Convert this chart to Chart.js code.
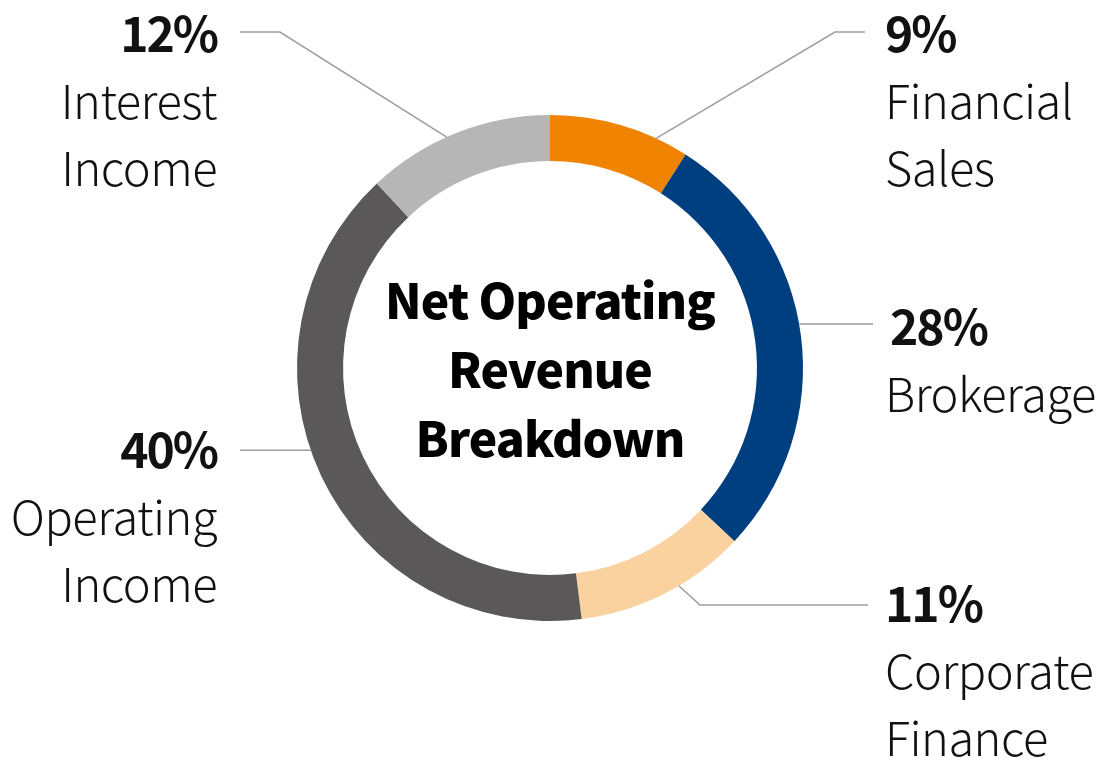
<!DOCTYPE html>
<html>
<head>
<meta charset="utf-8">
<title>Net Operating Revenue Breakdown</title>
<script src="https://cdn.jsdelivr.net/npm/chart.js@4/dist/chart.umd.min.js"></script>
<style>
    html, body { margin: 0; padding: 0; background: #fff; }
    #wrap { width: 1107px; height: 762px; position: relative; }
</style>
</head>
<body>
<div id="wrap"><canvas id="revenueChart"></canvas></div>
<script>
// Data (clockwise from 12 o'clock)
const categories = ['Financial Sales', 'Brokerage', 'Corporate Finance', 'Operating Income', 'Interest Income'];
const labelLines = [['Financial', 'Sales'], ['Brokerage'], ['Corporate', 'Finance'], ['Operating', 'Income'], ['Interest', 'Income']];
const shares = [9, 28, 11, 40, 12];
const centerTitle = ['Net Operating', 'Revenue', 'Breakdown'];

const sliceColors = ['#f08300', '#003f7f', '#fad2a0', '#5a5859', '#b5b6b5'];

// Where each callout sits, relative to the doughnut centre
const callouts = [
    { shift: 8.6,  elbow: [285, -336], endX: 315,  align: 'left',  textX: 335,  pctDx: 0, base: -316 },
    { shift: -2.8, elbow: null,        endX: 323,  align: 'left',  textX: 335,  pctDx: 5, base: -23 },
    { shift: -3.6, elbow: [150, 237],  endX: 318,  align: 'left',  textX: 335,  pctDx: 0, base: 254 },
    { shift: 6.2,  elbow: null,        endX: -310, align: 'right', textX: -333, pctDx: 0, base: 100 },
    { shift: -2.5, elbow: [-270, -336], endX: -310, align: 'right', textX: -333, pctDx: 0, base: -316 }
];

const FONT = '"Noto Sans CJK KR", "Noto Sans", sans-serif';

const calloutPlugin = {
    id: 'callouts',
    afterDraw(chart) {
        const ctx = chart.ctx;
        const meta = chart.getDatasetMeta(0);
        const cx = meta.data[0].x;
        const cy = meta.data[0].y;
        const spacing = v => { if ('letterSpacing' in ctx) ctx.letterSpacing = v; };

        ctx.save();
        meta.data.forEach((arc, i) => {
            const c = callouts[i];
            const a = (arc.startAngle + arc.endAngle) / 2 + c.shift * Math.PI / 180;
            const ax = cx + arc.outerRadius * Math.cos(a);
            const ay = cy + arc.outerRadius * Math.sin(a);

            // leader line
            ctx.strokeStyle = '#9d9d9d';
            ctx.lineWidth = 1.5;
            ctx.beginPath();
            ctx.moveTo(ax, ay);
            if (c.elbow) {
                ctx.lineTo(cx + c.elbow[0], cy + c.elbow[1]);
                ctx.lineTo(cx + c.endX, cy + c.elbow[1]);
            } else {
                ctx.lineTo(cx + c.endX, ay);
            }
            ctx.stroke();

            // percentage + label
            ctx.fillStyle = '#111';
            ctx.textAlign = c.align;
            ctx.textBaseline = 'alphabetic';
            ctx.font = '700 48px ' + FONT;
            spacing('-2px');
            ctx.fillText(shares[i] + '%', cx + c.textX + c.pctDx, cy + c.base);
            ctx.font = '300 47px ' + FONT;
            spacing('-0.5px');
            labelLines[i].forEach((line, j) => {
                ctx.fillText(line, cx + c.textX, cy + c.base + 67 * (j + 1));
            });
        });

        // centre title
        ctx.fillStyle = '#000';
        ctx.textAlign = 'center';
        ctx.font = '900 48px ' + FONT;
        spacing('-0.9px');
        centerTitle.forEach((line, j) => {
            ctx.fillText(line, cx, cy - 49 + 69 * j);
        });
        ctx.restore();
    }
};

function initializeRevenueChart() {
    const revenueCtx = document.getElementById('revenueChart').getContext('2d');
    window.revenueChart = new Chart(revenueCtx, {
        type: 'doughnut',
        data: {
            labels: categories,
            datasets: [{
                data: shares,
                backgroundColor: sliceColors,
                borderWidth: 0,
                hoverOffset: 0
            }]
        },
        options: {
            responsive: true,
            maintainAspectRatio: false,
            animation: false,
            cutout: '81.8%',
            layout: {
                padding: { left: 297, right: 304, top: 115, bottom: 141 }
            },
            plugins: {
                legend: { display: false },
                tooltip: { enabled: false }
            }
        },
        plugins: [calloutPlugin]
    });
}

document.addEventListener('DOMContentLoaded', function() {
    const loads = ['300 48px', '700 48px', '900 48px'].map(f => document.fonts.load(f + ' "Noto Sans CJK KR"'));
    Promise.all(loads).catch(() => null).then(initializeRevenueChart);
});
</script>
</body>
</html>
